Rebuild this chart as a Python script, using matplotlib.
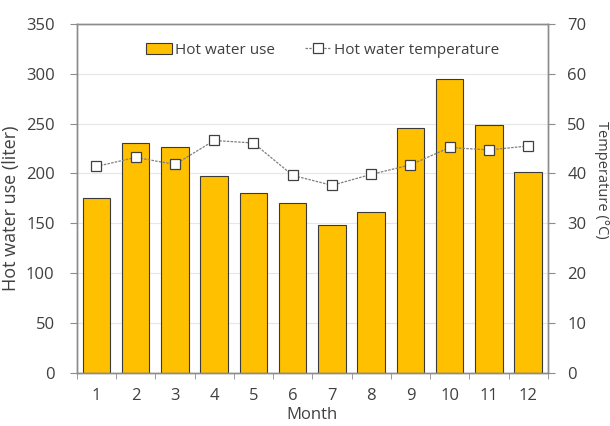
import matplotlib.pyplot as plt
import numpy as np

plt.rcParams['font.family'] = ['Open Sans', 'DejaVu Sans']

months = [1, 2, 3, 4, 5, 6, 7, 8, 9, 10, 11, 12]
water_use = [175, 230, 226, 197, 180, 170, 148, 161, 246, 295, 249, 201]
water_temp = [41.4, 43.2, 41.8, 46.6, 46.1, 39.6, 37.6, 39.8, 41.7, 45.2, 44.7, 45.5]

fig = plt.figure(figsize=(6.1, 4.26), dpi=100)
ax = fig.add_axes([0.126, 0.125, 0.772, 0.819])
ax2 = ax.twinx()

grid_col = '#e6e6e6'
spine_col = '#8c8c8c'
text_col = '#404040'

ax.set_axisbelow(True)
ax.yaxis.grid(True, color=grid_col, linewidth=0.8)
bars = ax.bar(months, water_use, width=0.7, color='#FFC000', edgecolor='#3a3a3a',
              linewidth=0.8, label='Hot water use', zorder=2)
line, = ax2.plot(months, water_temp, color='#7f7f7f', linestyle=(0, (2, 1)), linewidth=0.9,
                 marker='s', markersize=6.5, markerfacecolor='white',
                 markeredgecolor='#404040', markeredgewidth=0.9,
                 label='Hot water temperature', zorder=3)

ax.set_xlim(0.5, 12.5)
ax.set_ylim(0, 350)
ax.set_yticks(np.arange(0, 351, 50))
ax2.set_ylim(0, 70)
ax2.set_yticks(np.arange(0, 71, 10))

ax.set_xticks(months)
ax.set_xticks(np.arange(0.5, 13, 1), minor=True)
ax.tick_params(axis='x', which='major', length=0, pad=11, labelsize=12, labelcolor=text_col)
ax.tick_params(axis='x', which='minor', length=4, color=spine_col, direction='out')
ax.tick_params(axis='y', length=5, color=spine_col, labelsize=12, labelcolor=text_col, pad=11)
ax2.tick_params(axis='y', length=5, color=spine_col, labelsize=12, labelcolor=text_col, pad=9)

for a in (ax, ax2):
    for s in a.spines.values():
        s.set_color(spine_col)
        s.set_linewidth(1.0)

ax.set_xlabel('Month', fontsize=12, color=text_col, labelpad=2)
ax.set_ylabel('Hot water use (liter)', fontsize=13, color=text_col)
ax2.set_ylabel('Temperature (°C)', fontsize=10.5, color=text_col, rotation=270)
ax.yaxis.label.set_va('center')
ax2.yaxis.label.set_va('center')
ax.yaxis.set_label_coords(11 / 610, 1 - 208 / 426, transform=fig.transFigure)
ax2.yaxis.set_label_coords(601 / 610, 1 - 180 / 426, transform=fig.transFigure)

ax.legend([bars, line], ['Hot water use', 'Hot water temperature'], loc='center',
          bbox_to_anchor=(0.522, 0.925), ncol=2, frameon=False, fontsize=11,
          handlelength=1.7, handletextpad=0.2, columnspacing=2.0, labelcolor=text_col)

fig.savefig('out.png', dpi=100)
